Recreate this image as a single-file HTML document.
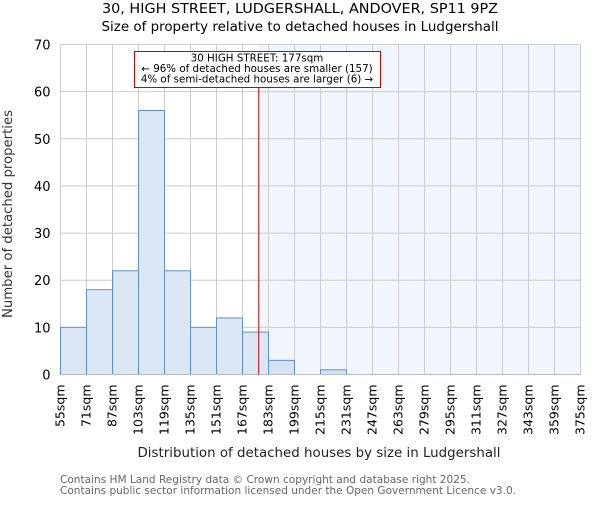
<!DOCTYPE html>
<html><head><meta charset="utf-8"><style>
body{margin:0;background:#fff}
svg{font-family:"DejaVu Sans","Liberation Sans",sans-serif}
</style></head><body>
<svg id="c" width="600" height="500">
<text x="300" y="13" text-anchor="middle" font-size="13" textLength="396" lengthAdjust="spacingAndGlyphs">30, HIGH STREET, LUDGERSHALL, ANDOVER, SP11 9PZ</text>
<text x="300" y="31" text-anchor="middle" font-size="13" textLength="397" lengthAdjust="spacingAndGlyphs">Size of property relative to detached houses in Ludgershall</text>
<g id="plot"></g>
<text transform="translate(12,214) rotate(-90)" text-anchor="middle" font-size="13" fill="#333" textLength="208" lengthAdjust="spacingAndGlyphs">Number of detached properties</text>
<text x="319" y="457" text-anchor="middle" font-size="13" fill="#222" textLength="363" lengthAdjust="spacingAndGlyphs">Distribution of detached houses by size in Ludgershall</text>
<text x="60" y="483" font-size="10.5" fill="#666" textLength="410" lengthAdjust="spacingAndGlyphs">Contains HM Land Registry data © Crown copyright and database right 2025.</text>
<text x="60" y="494" font-size="10.5" fill="#666" textLength="456" lengthAdjust="spacingAndGlyphs">Contains public sector information licensed under the Open Government Licence v3.0.</text>
</svg>
<script>
const binEdges=[55,71,87,103,119,135,151,167,183,199,215,231,247,263,279,295,311,327,343,359,375];
const counts=[10,18,22,56,22,10,12,9,3,0,1,0,0,0,0,0,0,0,0,0];
const yTicks=[0,10,20,30,40,50,60,70];
const propertySize=177;
const annotationLines=["30 HIGH STREET: 177sqm","← 96% of detached houses are smaller (157)","4% of semi-detached houses are larger (6) →"];
const NS="http://www.w3.org/2000/svg";
const X0=60.5,X1=580.5,Y0=374.5,Y1=44.5;
const xs=v=>X0+(v-55)/(375-55)*(X1-X0);
const ys=v=>Y0-v/70*(Y0-Y1);
const g=document.getElementById('plot');
function mk(t,a,txt){const e=document.createElementNS(NS,t);for(const k in a)e.setAttribute(k,a[k]);if(txt!=null)e.textContent=txt;g.appendChild(e);return e;}
const sh=mk('rect',{x:xs(propertySize),y:Y1,width:X1-xs(propertySize),height:Y0-Y1,fill:'#f1f5fd'});


yTicks.forEach(t=>{
 const l=mk('line',{x1:X0,x2:X1,y1:ys(t),y2:ys(t),stroke:'#ccc','stroke-width':1});
 
 
 const tx=mk('text',{x:X0-10,y:ys(t)+5,'text-anchor':'end','font-size':13},t);
 
 
});
binEdges.forEach(b=>{
 const l=mk('line',{x1:xs(b),x2:xs(b),y1:Y1,y2:Y0,stroke:'#ccc','stroke-width':1});
 
 
 const x=xs(b)+4,y=Y0+10;
 const tx=mk('text',{transform:`translate(${x},${y}) rotate(-90)`,'text-anchor':'end','font-size':12.5},b+'sqm');
 
 
});
counts.forEach((c,i)=>{
 if(c<=0)return;
 const x=xs(binEdges[i]),w=xs(binEdges[i+1])-x;
 const r=mk('rect',{x:x,y:ys(c),width:w,height:Y0-ys(c),fill:binEdges[i]>=propertySize?'#d6e2f4':'#dde6f4',stroke:'#5b8fd6','stroke-width':1});
 
 
});
const ax=mk('line',{x1:X0,x2:X1,y1:Y0,y2:Y0,stroke:'#bbb','stroke-width':1});


const pl=mk('line',{x1:xs(propertySize),x2:xs(propertySize),y1:Y1+43,y2:Y0,stroke:'#b00','stroke-width':1});


const box=mk('rect',{x:134.5,y:51.5,width:246,height:36,fill:'#fff',stroke:'#c00','stroke-width':1});


annotationLines.forEach((s,i)=>{
 const t=mk('text',{x:257,y:61.5+i*10.5,'text-anchor':'middle','font-size':10.3},s);
 
 
});
</script>
</body></html>
